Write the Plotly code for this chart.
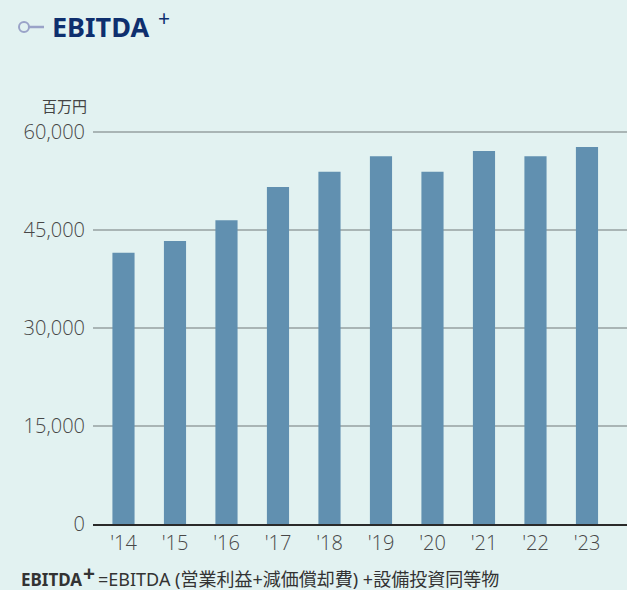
import plotly.graph_objects as go

years = ["'14", "'15", "'16", "'17", "'18", "'19", "'20", "'21", "'22", "'23"]
ebitda_plus = [41500, 43300, 46500, 51600, 53900, 56300, 53900, 57100, 56300, 57700]
y_ticks = [0, 15000, 30000, 45000, 60000]
y_tick_labels = ["0", "15,000", "30,000", "45,000", "60,000"]

W, H = 627, 590
L, R, T, B = 93, 0, 125, 66
PW, PH = W - L - R, H - T - B

def px(x):
    return (x - L) / PW

def py(y):
    return (H - B - y) / PH

BG = "#e2f2f1"
TICKFONT = dict(size=20, color="#474747", family="Open Sans", weight=300)

fig = go.Figure()
fig.add_trace(go.Bar(
    x=list(range(len(years))), y=ebitda_plus,
    marker=dict(color="#6190b0", line=dict(width=0)),
    width=0.43, hoverinfo="skip",
))

fig.update_layout(
    width=W, height=H,
    margin=dict(l=L, r=R, t=T, b=B, pad=0),
    paper_bgcolor=BG, plot_bgcolor=BG,
    showlegend=False,
    font=dict(family="Noto Sans, Noto Sans CJK JP", color="#444"),
    xaxis=dict(
        range=[-0.592, 9.777],
        tickmode="array", tickvals=list(range(len(years))), ticktext=years,
        showgrid=False, zeroline=False,
        showline=True, linecolor="#2a2a2a", linewidth=2,
        ticks="", tickfont=TICKFONT,
        fixedrange=True,
    ),
    yaxis=dict(
        range=[0, 61071],
        tickmode="array", tickvals=y_ticks, ticktext=y_tick_labels,
        showgrid=True, gridcolor="#a9b5b5", gridwidth=1.5,
        zeroline=False, showline=False, ticks="",
        ticklabelstandoff=7,
        tickfont=TICKFONT,
        fixedrange=True,
    ),
)

annotations = [
    dict(text="<b>EBITDA</b>", x=px(50), y=py(27), xref="paper", yref="paper",
         xanchor="left", yanchor="middle", showarrow=False,
         font=dict(size=27, color="#0e2f6e", family="Noto Sans")),
    dict(text="+", x=px(164), y=py(18), xref="paper", yref="paper",
         xanchor="center", yanchor="middle", showarrow=False,
         font=dict(size=21, color="#0e2f6e", family="Noto Sans")),
    dict(text="百万円", x=px(64), y=py(106), xref="paper", yref="paper",
         xanchor="center", yanchor="middle", showarrow=False,
         font=dict(size=15, color="#444", family="Noto Sans CJK JP")),
    dict(text="<b>EBITDA</b>", x=px(19), y=py(579), xref="paper", yref="paper",
         xanchor="left", yanchor="middle", showarrow=False,
         font=dict(size=17, color="#333", family="Noto Sans")),
    dict(text="<b>+</b>", x=px(88.5), y=py(573), xref="paper", yref="paper",
         xanchor="center", yanchor="middle", showarrow=False,
         font=dict(size=21, color="#333", family="Noto Sans")),
    dict(text="=EBITDA (営業利益+減価償却費) +設備投資同等物",
         x=px(96), y=py(579), xref="paper", yref="paper",
         xanchor="left", yanchor="middle", showarrow=False,
         font=dict(size=18, color="#333", family="Noto Sans, Noto Sans CJK JP")),
]
fig.update_layout(annotations=annotations)

# title icon: small circle with a line
fig.add_shape(type="circle", xref="paper", yref="paper",
              x0=px(19), x1=px(29), y0=py(32), y1=py(22),
              line=dict(color="#9aa3c8", width=2), fillcolor=BG)
fig.add_shape(type="line", xref="paper", yref="paper",
              x0=px(29), x1=px(44), y0=py(27), y1=py(27),
              line=dict(color="#9aa3c8", width=2.5))

fig.write_html(
    "out.html",
    config={"displayModeBar": False},
    post_script="document.body.style.margin='0';document.body.style.padding='0';"
                "document.body.style.overflow='hidden';document.body.style.background='#e2f2f1';",
)
